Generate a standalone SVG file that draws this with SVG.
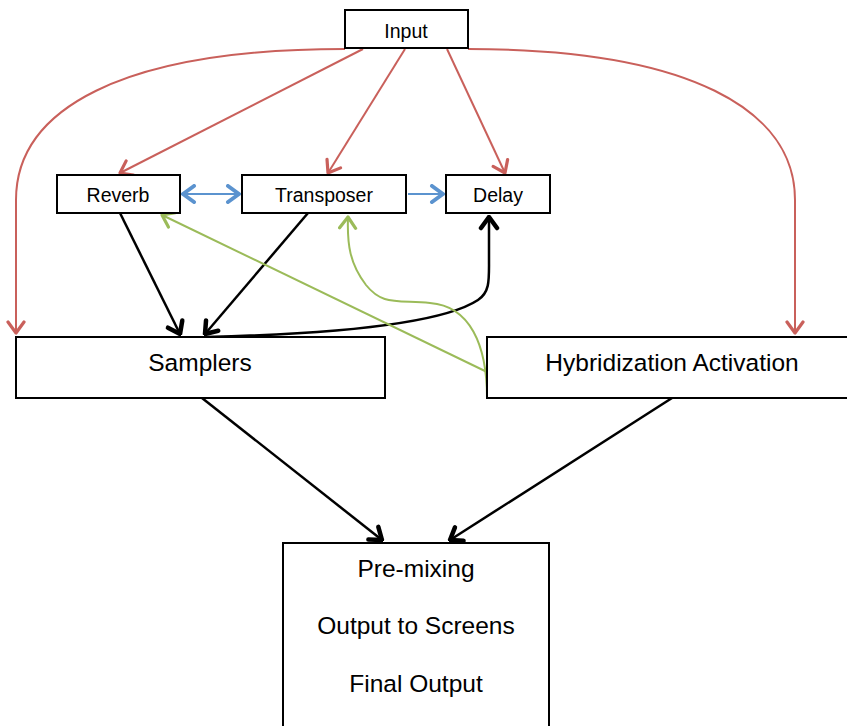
<svg xmlns="http://www.w3.org/2000/svg" width="847" height="726" viewBox="0 0 847 726">
  <style>
    .box { fill: #ffffff; stroke: #000000; stroke-width: 2; }
    .lbl { font-family: "Liberation Sans", Arial, sans-serif; fill: #000000; text-anchor: middle; dominant-baseline: central; }
    .sm { font-size: 19.5px; }
    .lg { font-size: 24.5px; }
    .red { fill: none; stroke: #C9605B; stroke-width: 2; }
    .blue { fill: none; stroke: #5B93CF; stroke-width: 2; }
    .blk { fill: none; stroke: #000000; stroke-width: 2.5; }
    .grn { fill: none; stroke: #9BBB59; stroke-width: 2; }
  </style>
  <defs>
    <marker id="aRed" viewBox="-14 -10 16 20" markerWidth="16" markerHeight="20" markerUnits="userSpaceOnUse" orient="auto" refX="0" refY="0">
      <path d="M-11,-8 L0,0 L-11,8" fill="none" stroke="#C9605B" stroke-width="3.2" stroke-linecap="round" stroke-linejoin="round"/>
    </marker>
    <marker id="aBlue" viewBox="-14 -10 16 20" markerWidth="16" markerHeight="20" markerUnits="userSpaceOnUse" orient="auto-start-reverse" refX="0" refY="0">
      <path d="M-11,-8 L0,0 L-11,8" fill="none" stroke="#5B93CF" stroke-width="4" stroke-linecap="round" stroke-linejoin="round"/>
    </marker>
    <marker id="aBlk" viewBox="-15 -11 17 22" markerWidth="17" markerHeight="22" markerUnits="userSpaceOnUse" orient="auto" refX="0" refY="0">
      <path d="M-11,-8 L0,0 L-11,8" fill="none" stroke="#000000" stroke-width="4.5" stroke-linecap="round" stroke-linejoin="round"/>
    </marker>
    <marker id="aGrn" viewBox="-14 -10 16 20" markerWidth="16" markerHeight="20" markerUnits="userSpaceOnUse" orient="auto" refX="0" refY="0">
      <path d="M-11,-8 L0,0 L-11,8" fill="none" stroke="#9BBB59" stroke-width="3.2" stroke-linecap="round" stroke-linejoin="round"/>
    </marker>
  </defs>

  <rect width="847" height="726" fill="#ffffff"/>

  <!-- connectors -->
  <g id="connectors">
    <!-- input fan-out -->
    <path class="red" d="M345,49 C120,49 16,110 16,200 L16,333" marker-end="url(#aRed)"/>
    <path class="red" d="M468,49 C690,49 795,110 795,200 L795,333" marker-end="url(#aRed)"/>
    <path class="red" d="M363,49 L120,173" marker-end="url(#aRed)"/>
    <path class="red" d="M405,49 L328,173" marker-end="url(#aRed)"/>
    <path class="red" d="M447,49 L505,173" marker-end="url(#aRed)"/>
    <!-- effect chain -->
    <path class="blue" d="M183,194 L239,194" marker-start="url(#aBlue)" marker-end="url(#aBlue)"/>
    <path class="blue" d="M408,194 L443,194" marker-end="url(#aBlue)"/>
    <!-- effects to samplers -->
    <path class="blk" d="M120,213 L180,334" marker-end="url(#aBlk)"/>
    <path class="blk" d="M308,213 L205,334" marker-end="url(#aBlk)"/>
    <path class="blk" d="M206,337 C330,334 440,325 478,300 C490,292 489,280 489,260 L489,217" marker-end="url(#aBlk)"/>
    <!-- hybridization controls -->
    <path class="grn" d="M487,372 L162,215" marker-end="url(#aGrn)"/>
    <path class="grn" d="M487,398 C487,345 470,306 430,303 C395,300 382,305 366,285 C350,264 347,245 348,217" marker-end="url(#aGrn)"/>
    <!-- to output -->
    <path class="blk" d="M202,398 L382,540" marker-end="url(#aBlk)"/>
    <path class="blk" d="M672,398 L450,540" marker-end="url(#aBlk)"/>
  </g>

  <g id="input">
    <rect class="box" x="345" y="10" width="123" height="38"/>
    <text class="lbl sm" x="406" y="31">Input</text>
  </g>
  <g id="reverb">
    <rect class="box" x="57" y="175" width="123" height="38"/>
    <text class="lbl sm" x="118" y="195">Reverb</text>
  </g>
  <g id="transposer">
    <rect class="box" x="242" y="175" width="164" height="38"/>
    <text class="lbl sm" x="324" y="195">Transposer</text>
  </g>
  <g id="delay">
    <rect class="box" x="446" y="175" width="104" height="38"/>
    <text class="lbl sm" x="498" y="195">Delay</text>
  </g>
  <g id="samplers">
    <rect class="box" x="16" y="337" width="369" height="61"/>
    <text class="lbl lg" x="200" y="362">Samplers</text>
  </g>
  <g id="hybridization">
    <rect class="box" x="487" y="337" width="370" height="61"/>
    <text class="lbl lg" x="672" y="362">Hybridization Activation</text>
  </g>
  <g id="output">
    <rect class="box" x="283" y="543" width="266" height="200"/>
    <text class="lbl lg" x="416" y="568">Pre-mixing</text>
    <text class="lbl lg" x="416" y="625">Output to Screens</text>
    <text class="lbl lg" x="416" y="683">Final Output</text>
  </g>
</svg>
